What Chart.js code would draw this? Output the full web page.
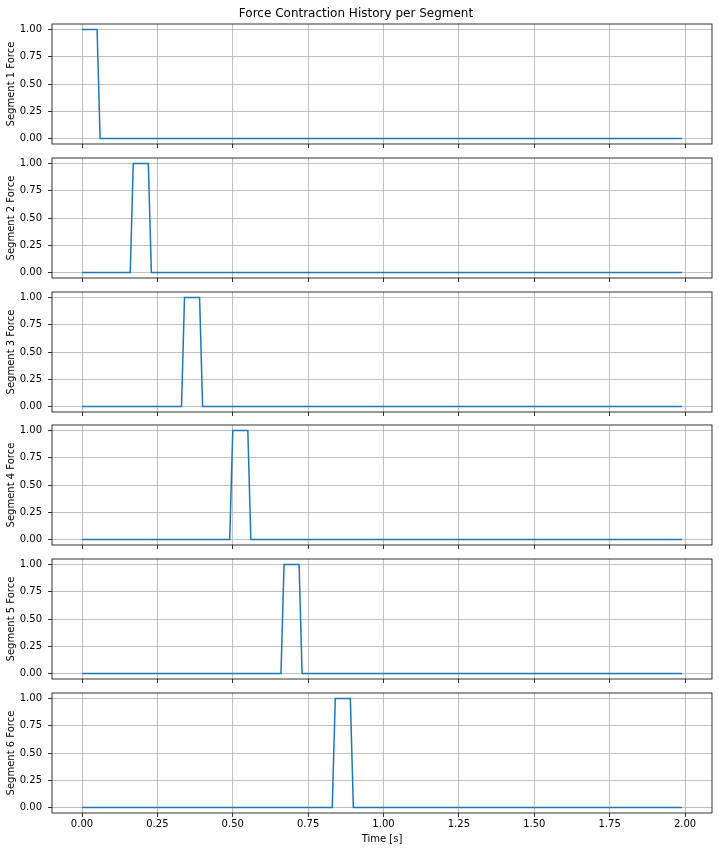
<!DOCTYPE html>
<html>
<head>
<meta charset="utf-8">
<script src="https://cdn.jsdelivr.net/npm/chart.js@4"></script>
<style>
  html, body { margin: 0; padding: 0; background: #fff; }
  #page { position: relative; width: 719px; height: 850px; overflow: hidden; }
  .panel { position: absolute; left: 0; width: 719px; }
</style>
</head>
<body>
<div id="page"></div>
<script>
// tick labels
const timeTicks = [0, 0.25, 0.5, 0.75, 1.0, 1.25, 1.5, 1.75, 2.0];
const forceTicks = [0, 0.25, 0.5, 0.75, 1.0];

// one label per segment
const segmentLabels = ['Segment 1 Force', 'Segment 2 Force', 'Segment 3 Force',
                       'Segment 4 Force', 'Segment 5 Force', 'Segment 6 Force'];

// corner points of each force trace (time [s], force)
const seg1Time  = [0, 0.05, 0.06, 1.99];
const seg1Force = [1, 1, 0, 0];
const seg2Time  = [0, 0.16, 0.17, 0.22, 0.23, 1.99];
const seg2Force = [0, 0, 1, 1, 0, 0];
const seg3Time  = [0, 0.33, 0.34, 0.39, 0.40, 1.99];
const seg3Force = [0, 0, 1, 1, 0, 0];
const seg4Time  = [0, 0.49, 0.50, 0.55, 0.56, 1.99];
const seg4Force = [0, 0, 1, 1, 0, 0];
const seg5Time  = [0, 0.66, 0.67, 0.72, 0.73, 1.99];
const seg5Force = [0, 0, 1, 1, 0, 0];
const seg6Time  = [0, 0.83, 0.84, 0.89, 0.90, 1.99];
const seg6Force = [0, 0, 1, 1, 0, 0];

const segTimes  = [seg1Time, seg2Time, seg3Time, seg4Time, seg5Time, seg6Time];
const segForces = [seg1Force, seg2Force, seg3Force, seg4Force, seg5Force, seg6Force];

Chart.defaults.font.family = "'DejaVu Sans', sans-serif";
Chart.defaults.font.size = 10;
Chart.defaults.color = '#000';

// matplotlib style frame round the plot area
const frame = {
    id: 'frame',
    afterDatasetsDraw(chart) {
        const a = chart.chartArea, ctx = chart.ctx;
        ctx.save();
        ctx.strokeStyle = '#000';
        ctx.lineWidth = 0.8;
        ctx.strokeRect(a.left, a.top, a.right - a.left, a.bottom - a.top);
        ctx.restore();
    }
};

const page = document.getElementById('page');
const areaTop = [24, 158, 292, 425, 559, 693];
const areaH = 120;
const pad = 14; // room for the y tick labels above/below the plot area

for (let i = 0; i < 6; i++) {
    let last = i === 5, first = i === 0;
    let top = first ? 0 : areaTop[i] - pad;
    let bottom = last ? 850 : areaTop[i] + areaH + pad;
    let div = document.createElement('div');
    div.className = 'panel';
    div.style.top = top + 'px';
    div.style.height = (bottom - top) + 'px';
    let cv = document.createElement('canvas');
    div.appendChild(cv);
    page.appendChild(div);

    let pts = segTimes[i].map((t, k) => ({ x: t, y: segForces[i][k] }));

    new Chart(cv, {
        type: 'line',
        data: {
            datasets: [{
                label: segmentLabels[i],
                data: pts,
                borderColor: '#1f77b4', borderWidth: 1.5,
                pointRadius: 0, tension: 0, fill: false
            }]
        },
        options: {
            responsive: true, maintainAspectRatio: false, animation: false,
            layout: { padding: { top: first ? 0 : pad, right: 7, left: 0, bottom: 0 } },
            plugins: {
                legend: { display: false },
                tooltip: { enabled: false },
                title: {
                    display: first,
                    text: 'Force Contraction History per Segment',
                    font: { size: 12, weight: 'normal' },
                    color: '#000',
                    padding: { top: 7, bottom: 2.6 }
                }
            },
            scales: {
                x: {
                    type: 'linear', min: -0.0995, max: 2.0895,
                    afterBuildTicks: s => { s.ticks = timeTicks.map(v => ({ value: v })); },
                    afterFit: s => { s.height = last ? 37 : pad; },
                    ticks: { display: last, padding: 1, maxRotation: 0,
                             callback: v => v.toFixed(2) },
                    grid: { color: '#b0b0b0', lineWidth: 0.8, tickColor: '#000',
                            tickWidth: 0.8, tickLength: 4 },
                    border: { display: false },
                    title: { display: last, text: 'Time [s]', padding: { top: 0, bottom: 5 } }
                },
                y: {
                    min: -0.05, max: 1.05,
                    afterBuildTicks: s => { s.ticks = forceTicks.map(v => ({ value: v })); },
                    afterFit: s => { s.width = 52; },
                    ticks: { padding: 6, callback: v => v.toFixed(2) },
                    grid: { color: '#b0b0b0', lineWidth: 0.8, tickColor: '#000',
                            tickWidth: 0.8, tickLength: 4 },
                    border: { display: false },
                    title: { display: true, text: segmentLabels[i], padding: { top: 5, bottom: 0 } }
                }
            }
        },
        plugins: [frame]
    });
}
</script>
</body>
</html>
